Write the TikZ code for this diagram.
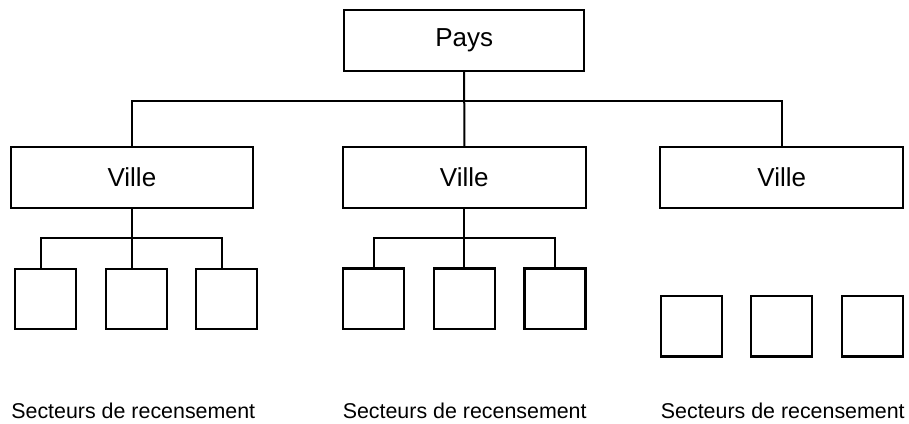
\documentclass[tikz,border=0pt]{standalone}
\usepackage{fontspec}
\setmainfont{Liberation Sans}
\usetikzlibrary{calc}
\begin{document}
\begin{tikzpicture}[x=1pt,y=-1pt,
  bigbox/.style={draw,line width=2.2pt,inner sep=0pt,minimum height=60.5pt,
    font=\fontsize{26}{30}\selectfont,text height=18.6pt,text depth=0pt},
  smallbox/.style={draw,line width=2.2pt,inner sep=0pt,minimum width=61pt,minimum height=60.5pt},
  conn/.style={line width=2pt},
  lbl/.style={anchor=base,inner sep=0pt,font=\fontsize{21.4}{25}\selectfont}]
\useasboundingbox (0,0) rectangle (909,423);
\node[bigbox,minimum width=240pt,text depth=6.2pt] (pays) at (464.2,40.5) {Pays};
\node[bigbox,minimum width=241.7pt] (v1) at (131.9,177.5) {Ville};
\node[bigbox,minimum width=242.7pt] (v2) at (464.3,177.5) {Ville};
\node[bigbox,minimum width=243.3pt] (v3) at (781.7,177.5) {Ville};
% group 1
\node[smallbox] (a1) at (45.3,299) {};
\node[smallbox] (a2) at (136.3,299) {};
\node[smallbox] (a3) at (226.3,299) {};
% group 2
\node[smallbox] (b1) at (373.5,298.8) {};
\node[smallbox] (b2) at (464.3,298.8) {};
\node[smallbox] (b3) at (555,298.8) {};
% group 3
\node[smallbox] (c1) at (691.2,326.2) {};
\node[smallbox] (c2) at (781.7,326.2) {};
\node[smallbox] (c3) at (872.2,326.2) {};
% labels
\node[lbl] (l1) at (133.3,418) {Secteurs de recensement};
\node[lbl] (l2) at (464.7,418) {Secteurs de recensement};
\node[lbl] (l3) at (782.8,418) {Secteurs de recensement};
% top connectors
\coordinate (hy) at (0,101);
\draw[conn] (pays.south) -- (v2.north);
\draw[conn] (v1.north) -- (v1.north |- hy) -- (v3.north |- hy) -- (v3.north);
% group 1 connectors
\coordinate (g1) at (0,237.7);
\draw[conn] (v1.south) -- (v1.south |- a2.north);
\draw[conn] ($(a1.north)+(-4,0)$) -- ($(a1.north |- g1)+(-4,0)$) -- ($(a3.north |- g1)+(-4,0)$) -- ($(a3.north)+(-4,0)$);
% group 2 connectors
\draw[conn] (v2.south) -- (b2.north);
\draw[conn] (b1.north) -- (b1.north |- g1) -- (b3.north |- g1) -- (b3.north);
\end{tikzpicture}
\end{document}
